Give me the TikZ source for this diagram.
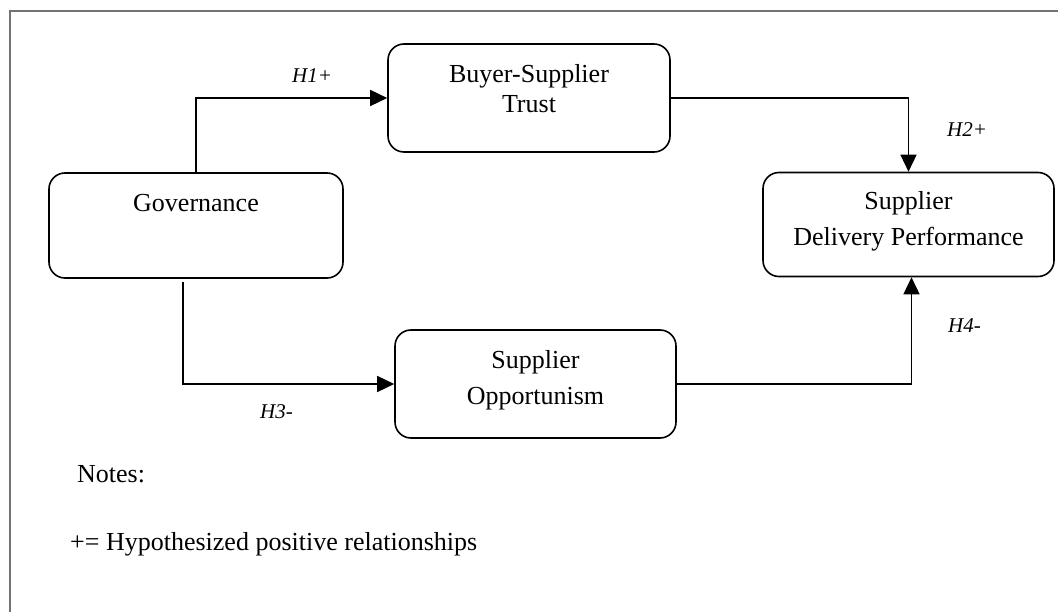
\documentclass[tikz,border=0pt]{standalone}
\usepackage{fontspec}
\setmainfont{Liberation Serif}
\usetikzlibrary{arrows.meta}
\begin{document}
\begin{tikzpicture}[x=1pt,y=-1pt,
  box/.style={draw=black,line width=1.6pt,rounded corners=16pt,inner sep=0pt},
  txt/.style={anchor=base,inner sep=0pt,font=\fontsize{26}{30}\selectfont},
  hyp/.style={anchor=base west,inner sep=0pt,font=\fontsize{21}{24}\selectfont\itshape},
  note/.style={anchor=base west,inner sep=0pt,font=\fontsize{26}{30}\selectfont},
  arr/.style={draw=black,line width=1.5pt,-{Triangle[length=17pt,width=16pt]}}]
\useasboundingbox (0,0) rectangle (1058,612);
% frame
\draw[draw=gray!90!black,line width=2pt] (10,613) -- (10,11) -- (1059,11);
% boxes
\node[box,minimum width=294pt,minimum height=105pt] (gov) at (196,225.5) {};
\node[box,minimum width=282pt,minimum height=108pt] (trust) at (529,98) {};
\node[box,minimum width=291pt,minimum height=104pt] (sdp) at (908.5,224.5) {};
\node[box,minimum width=281pt,minimum height=108pt] (opp) at (535.5,384) {};
% texts
\node[txt] (govt) at (196,212) {Governance};
\node[txt] (trust1) at (529,83) {Buyer-Supplier};
\node[txt] (trust2) at (529,113) {Trust};
\node[txt] (sdp1) at (908.5,210) {Supplier};
\node[txt] (sdp2) at (908.5,246) {Delivery Performance};
\node[txt] (opp1) at (535.5,369) {Supplier};
\node[txt] (opp2) at (535.5,404) {Opportunism};
% connectors
\draw[arr] (gov.north) |- (trust.west);
\draw[arr] (trust.east) -| (sdp.north);
\coordinate (h3s) at (183,282);
\draw[arr] (h3s) |- (opp.west);
\draw[arr] (opp.east) -| ([xshift=3pt]sdp.south);
% labels
\node[hyp] (h1) at (292,83) {H1+};
\node[hyp] (h2) at (947,137) {H2+};
\node[hyp] (h3) at (260,418) {H3-};
\node[hyp] (h4) at (948,333) {H4-};
\node[note] (notes) at (77,482) {Notes:};
\node[note] (plus) at (70,550) {+= Hypothesized positive relationships};
\end{tikzpicture}
\end{document}
